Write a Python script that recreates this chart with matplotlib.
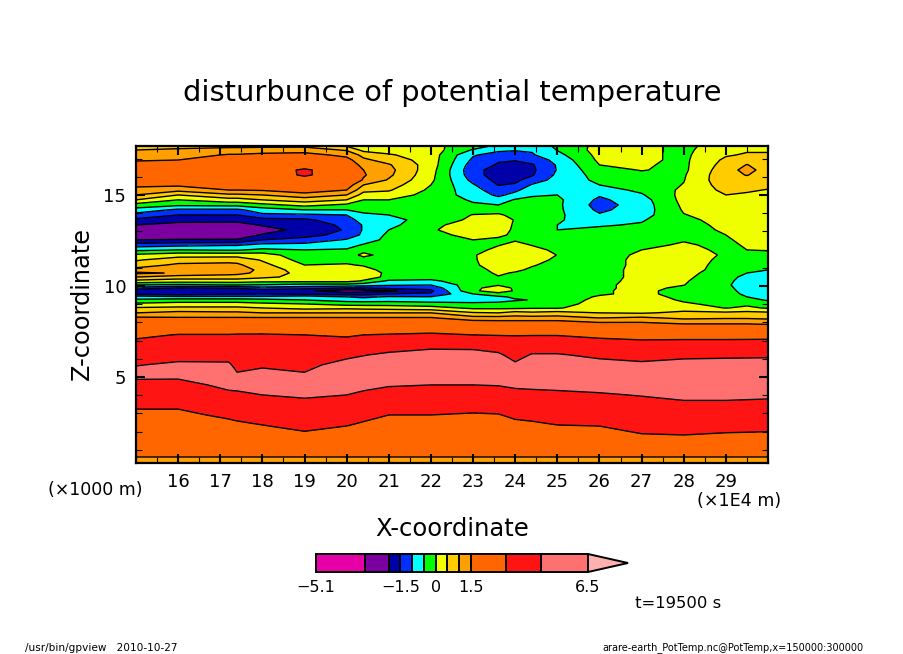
import numpy as np
import matplotlib
matplotlib.use("Agg")
import matplotlib.pyplot as plt
from matplotlib.colors import ListedColormap, BoundaryNorm

W, H = 904, 654

x_pos = [15, 16, 17.2, 17.4, 18, 19, 20, 20.4, 21, 22, 23, 23.6, 24, 24.4, 25, 26, 27, 28, 29, 29.5, 30]
z_pos = [17.69, 17.47, 17.20, 16.92, 16.65, 16.37, 16.10, 15.82, 15.55, 15.27,
         15.00, 14.73, 14.45, 14.18, 13.90, 13.63, 13.35, 13.08, 12.80, 12.53,
         12.25, 11.98, 11.70, 11.43, 11.15, 10.88, 10.71, 10.49, 10.27, 10.05,
         9.89, 9.73, 9.56, 9.40, 9.23, 9.01, 8.79, 8.52, 8.24,
         7.97, 7.69, 7.31, 6.76, 6.21, 5.66, 5.11, 4.56, 4.01, 3.46, 2.91, 2.36, 1.81, 1.26, 0.60, 0.27]

# one list per x column, top of the domain first
t15 = [.8, 1.0, 1.25, 1.45, 1.7, 1.9, 1.9, 1.8, 1.6, 1.35,
       1.0, .5, -.2, -.7, -1.2, -1.6, -2.0, -2.4, -2.6, -2.0,
       -1.25, -.6, .1, .45, .75, 1.2, 1.6, 1.0, .35, -.5,
       -1.2, -1.9, -1.6, -.8, -.4, .1, .55, 1.0, 1.6,
       1.75, 2.17, 2.75, 3.38, 3.91, 4.45, 4.9, 4.0, 3.65, 3.15, 2.79, 2.49, 2.18, 1.87, 1.5, 1.3]
t16 = [.9, 1.05, 1.25, 1.5, 1.75, 2.0, 2.0, 1.85, 1.6, 1.15,
       .5, 0, -.4, -1.1, -1.5, -1.8, -2.2, -2.6, -2.4, -1.95,
       -1.15, -.5, .3, .75, 1.1, 1.4, 1.45, .75, .25, -.6,
       -1.5, -1.85, -1.75, -.9, -.3, .2, .6, 1.15, 1.55,
       1.8, 2.35, 3.05, 3.57, 4.09, 4.7, 4.75, 4.15, 3.65, 3.15, 2.79, 2.49, 2.18, 1.87, 1.5, 1.3]
t172 = [.9, 1.15, 1.55, 1.85, 2.1, 2.2, 2.2, 2.0, 1.75, 1.5,
        .9, .3, -.35, -1.1, -1.5, -1.85, -2.2, -2.5, -2.3, -1.95,
        -1.05, -.55, .3, .8, 1.15, 1.35, 1.2, .75, .25, -.5,
        -1.45, -1.8, -1.55, -.9, -.3, .2, .6, 1.1, 1.55,
        1.8, 2.35, 3.05, 3.59, 4.13, 4.65, 5.1, 4.75, 4.28, 3.72, 3.17, 2.75, 2.42, 2.0, 1.5, 1.3]
t174 = [.9, 1.15, 1.55, 1.85, 2.1, 2.2, 2.2, 2.0, 1.75, 1.5,
        .9, .3, -.35, -1.1, -1.5, -1.85, -2.2, -2.5, -2.3, -1.95,
        -1.05, -.55, .3, .8, 1.1, 1.3, 1.15, .75, .25, -.5,
        -1.45, -1.8, -1.55, -.9, -.3, .2, .6, 1.1, 1.55,
        1.8, 2.4, 3.08, 3.46, 3.85, 4.23, 4.6, 4.65, 4.4, 3.8, 3.3, 2.8, 2.4, 2.0, 1.5, 1.3]
t18 = [.9, 1.2, 1.65, 1.9, 2.1, 2.2, 2.1, 2.0, 1.8, 1.55,
       1.0, .5, -.15, -.75, -1.1, -1.7, -1.95, -2.2, -1.95, -1.5,
       -.85, -.4, .25, .45, .65, .85, .85, .6, .15, -.55,
       -1.2, -1.75, -1.5, -.9, -.35, .1, .5, 1.0, 1.55,
       1.85, 2.4, 3.09, 3.53, 3.97, 4.41, 4.7, 4.9, 4.5, 4.0, 3.5, 3.0, 2.55, 2.1, 1.5, 1.3]
t19 = [.9, 1.25, 1.7, 2.0, 2.3, 3.2, 3.2, 2.4, 2.1, 1.8,
       1.3, .75, .15, -.5, -1.1, -1.6, -1.75, -1.85, -1.7, -1.3,
       -.85, -.5, -.35, -.2, 0, .2, .3, .35, .15, -.7,
       -1.3, -1.9, -1.6, -.75, -.5, 0, .35, 1.0, 1.55,
       1.8, 2.3, 3.0, 3.41, 3.81, 4.22, 4.6, 5.0, 4.65, 4.19, 3.75, 3.31, 2.82, 2.2, 1.5, 1.3]
t20 = [.45, .95, 1.35, 1.7, 1.95, 2.1, 2.1, 2.0, 1.8, 1.5,
       1.0, .5, -.1, -.5, -1.0, -1.2, -1.4, -1.45, -1.3, -.95,
       -.7, -.45, -.3, -.15, .05, .2, .25, .35, .15, -.7,
       -1.5, -2.3, -1.7, -1.0, -.7, -.2, .4, 1.0, 1.55,
       1.75, 2.2, 2.85, 3.55, 4.23, 4.9, 5.1, 5.0, 4.5, 4.0, 3.53, 3.05, 2.55, 2.1, 1.5, 1.3]
t204 = [.2, .35, .85, 1.1, 1.3, 1.5, 1.55, 1.45, 1.0, .65,
        .3, 0, -.15, -.35, -.6, -.8, -.95, -.95, -.9, -.75,
        -.45, -.2, .15, -.25, -.05, .2, .25, .2, -.05, -.8,
        -1.5, -2.2, -1.7, -1.1, -.75, -.2, .35, 1.0, 1.55,
        1.8, 2.3, 3.0, 3.7, 4.45, 5.0, 5.1, 4.85, 4.25, 3.75, 3.3, 2.85, 2.45, 2.0, 1.5, 1.3]
t21 = [.1, .3, .55, .8, 1.05, 1.15, 1.1, .95, .75, .55,
       .3, 0, -.15, -.3, -.5, -.65, -.65, -.5, -.4, -.35,
       -.35, -.3, -.25, -.3, -.3, -.2, -.1, -.1, -.6, -.95,
       -1.35, -2.1, -1.5, -.95, -.7, -.2, .3, 1.0, 1.55,
       1.8, 2.35, 3.08, 3.92, 4.7, 5.2, 5.1, 4.6, 4.0, 3.5, 3.0, 2.65, 2.3, 1.95, 1.5, 1.3]
t22 = [.1, .25, .25, .25, .25, .2, .15, .1, 0, -.1,
       -.2, -.25, -.3, -.3, -.35, -.3, -.1, -.05, -.15, -.2,
       -.3, -.3, -.3, -.3, -.3, -.3, -.3, -.4, -.55, -1.0,
       -1.35, -1.6, -1.45, -.98, -.75, -.3, .2, 1.0, 1.55,
       1.85, 2.4, 3.2, 4.2, 4.9, 5.3, 5.1, 4.5, 4.0, 3.5, 3.0, 2.65, 2.3, 1.95, 1.5, 1.3]
t23 = [-.2, -.55, -.95, -1.1, -1.25, -1.35, -1.3, -1.15, -.95, -.8,
       -.7, -.55, -.45, -.2, .02, .1, .2, .25, .15, 0,
       -.1, -.2, -.05, -.07, -.1, -.2, -.25, -.3, -.35, -.2,
       -.08, -.05, -.5, -.7, -.7, -.4, -.1, .55, 1.2,
       1.8, 2.3, 3.0, 4.15, 4.9, 5.3, 5.1, 4.5, 3.95, 3.4, 2.9, 2.6, 2.25, 1.9, 1.5, 1.3]
t236 = [-.65, -.9, -1.2, -1.45, -1.55, -1.7, -1.75, -1.65, -1.52, -1.3,
        -1.1, -.8, -.5, -.15, .05, .15, .2, .2, .1, -.1,
        -.03, .15, .3, .35, .3, .15, .08, -.03, -.15, -.02,
        .15, .15, -.1, -.6, -.75, -.3, -.1, .5, 1.2,
        1.75, 2.3, 2.95, 3.84, 4.7, 5.2, 5.1, 4.55, 3.95, 3.45, 2.95, 2.65, 2.3, 1.95, 1.5, 1.3]
t24 = [-.85, -.95, -1.3, -1.48, -1.6, -1.7, -1.7, -1.6, -1.45, -1.1,
       -.85, -.45, -.35, -.2, -.1, -.02, -.05, -.08, -.1, -.05,
       .15, .25, .3, .35, .3, .1, -.05, -.15, -.2, -.15,
       -.05, -.03, -.2, -.4, -.55, -.3, -.1, .7, 1.2,
       1.75, 2.3, 2.95, 3.5, 4.05, 4.7, 5.0, 4.7, 4.13, 3.57, 3.2, 2.75, 2.4, 2.0, 1.5, 1.3]
t244 = [-.85, -.95, -1.05, -1.3, -1.55, -1.6, -1.55, -1.3, -.95, -.75,
        -.55, -.4, -.3, -.25, -.2, -.2, -.2, -.2, -.2, -.15,
        -.02, .15, .25, .2, .05, -.1, -.2, -.25, -.25, -.25,
        -.25, -.25, -.3, -.4, -.48, -.2, -.05, .6, 1.2,
        1.75, 2.3, 2.95, 3.75, 4.6, 5.1, 5.1, 4.7, 4.25, 3.7, 3.25, 2.85, 2.45, 2.05, 1.5, 1.3]
t25 = [-.4, -.48, -.65, -.85, -.95, -.97, -.9, -.8, -.7, -.6,
       -.5, -.4, -.4, -.4, -.4, -.45, -.5, -.5, -.4, -.3,
       -.2, -.1, -.01, -.1, -.2, -.25, -.25, -.25, -.25, -.25,
       -.25, -.25, -.25, -.25, -.2, -.15, -.05, .7, 1.2,
       1.75, 2.3, 2.95, 3.75, 4.6, 5.1, 5.1, 4.75, 4.3, 3.85, 3.45, 3.0, 2.55, 2.1, 1.5, 1.3]
t26 = [.15, .2, .15, .1, 0, -.15, -.3, -.4, -.5, -.7,
       -.95, -1.1, -1.2, -1.1, -.95, -.75, -.55, -.4, -.3, -.25,
       -.25, -.25, -.25, -.25, -.25, -.2, -.2, -.2, -.15, -.1,
       -.1, -.05, -.05, .05, .1, .15, .3, .5, 1.0,
       1.55, 2.2, 2.75, 3.5, 4.25, 4.9, 5.2, 4.85, 4.4, 3.95, 3.5, 3.05, 2.6, 2.1, 1.5, 1.3]
t27 = [.1, .1, .1, .1, .05, .02, -.1, -.2, -.3, -.4,
       -.55, -.7, -.75, -.75, -.7, -.55, -.45, -.35, -.3, -.2,
       -.1, 0, .1, .15, .15, .15, .15, .15, .15, .15,
       .15, .1, .1, .15, .2, .25, .3, .45, 1.1,
       1.55, 2.1, 2.65, 3.35, 4.0, 4.75, 5.1, 5.0, 4.55, 4.15, 3.75, 3.35, 2.95, 2.3, 1.5, 1.3]
t28 = [-.1, -.1, -.1, -.1, -.1, -.1, -.05, -.02, .02, .1,
       .15, .15, .1, .05, -.02, -.1, -.15, -.15, -.1, -.03,
       .05, .15, .2, .2, .2, .2, .15, .1, .05, .01,
       -.1, -.15, -.15, -.1, -.05, .05, .3, .6, .9,
       1.4, 1.9, 2.65, 3.4, 4.2, 4.95, 5.2, 5.1, 4.8, 4.25, 3.85, 3.45, 3.0, 2.35, 1.5, 1.3]
t29 = [.2, .3, .45, .6, .7, .8, .85, .85, .75, .62,
       .5, .35, .3, .25, .2, .15, .1, .05, 0, -.05,
       -.1, -.1, -.05, -.1, -.15, -.2, -.25, -.3, -.35, -.4,
       -.35, -.3, -.3, -.25, -.2, -.1, -.02, .6, .95,
       1.4, 1.9, 2.65, 3.4, 4.25, 5.0, 5.2, 5.1, 4.8, 4.25, 3.8, 3.35, 2.9, 2.3, 1.5, 1.3]
t295 = [.3, .45, .55, .8, 1.02, 1.15, 1.02, .85, .7, .55,
        .45, .4, .35, .3, .3, .3, .25, .2, .15, .1,
        .05, 0, -.1, -.2, -.3, -.45, -.5, -.65, -.75, -.8,
        -.75, -.7, -.6, -.5, -.35, -.1, .1, .65, .95,
        1.4, 1.9, 2.65, 3.42, 4.28, 5.0, 5.2, 5.1, 4.75, 4.22, 3.78, 3.32, 2.88, 2.28, 1.5, 1.3]
t30 = [.35, .45, .55, .65, .75, .8, .8, .7, .6, .48,
       .4, .35, .35, .3, .3, .3, .25, .2, .15, .1,
       .05, .02, -.1, -.2, -.35, -.5, -.6, -.7, -.8, -.8,
       -.8, -.75, -.7, -.6, -.55, -.3, -.05, .6, .9,
       1.35, 1.85, 2.65, 3.45, 4.3, 5.0, 5.2, 5.1, 4.7, 4.2, 3.75, 3.3, 2.85, 2.25, 1.5, 1.3]

levels = [-5.1, -3, -2, -1.5, -1, -.5, 0, .5, 1, 1.5, 3, 4.5, 6.5]
colors = ["#e600a8", "#7a00a0", "#0000a8", "#0030ff", "#00ffff", "#00ff00",
          "#f0ff00", "#ffcc00", "#ffa000", "#ff6600", "#ff1414", "#ff7070"]
over_color = "#ffb0b0"
bar_ticks = [-5.1, -1.5, 0, 1.5, 6.5]
bar_labels = ["\u22125.1", "\u22121.5", "0", "1.5", "6.5"]

theta = np.array([t15, t16, t172, t174, t18, t19, t20, t204, t21, t22, t23,
                  t236, t24, t244, t25, t26, t27, t28, t29, t295, t30]).T

cmap = ListedColormap(colors)
cmap.set_over(over_color)
norm = BoundaryNorm(levels, len(colors))


def px_box(x0, y0, x1, y1):
    return [x0 / W, 1 - y1 / H, (x1 - x0) / W, (y1 - y0) / H]


def label(x, y, s, **kw):
    kw.setdefault("ha", "center")
    fig.text(x / W, 1 - y / H, s, va="center", **kw)


fig = plt.figure(figsize=(W / 100, H / 100), dpi=100)
ax = fig.add_axes(px_box(136, 146, 768, 463))

cf = ax.contourf(x_pos, z_pos, theta, levels=levels, cmap=cmap, norm=norm, extend="max", antialiased=False)
ax.contour(x_pos, z_pos, theta, levels=levels, colors="k", linewidths=1.0, linestyles="solid")

ax.set_xlim(15, 30)
ax.set_ylim(0.27, 17.69)
ax.set_xticks(range(16, 30))
ax.set_xticks(np.arange(15, 30.5, 0.5), minor=True)
ax.set_yticks([5, 10, 15])
ax.set_yticks(range(1, 18), minor=True)
ax.tick_params(which="major", direction="in", top=True, right=True, length=6.5, width=1.5, labelsize=13, pad=7)
ax.tick_params(which="minor", direction="in", top=True, right=True, length=4, width=0.8)
for sp in ax.spines.values():
    sp.set_linewidth(1.6)
ax.set_axisbelow(False)

label(452, 93, "disturbunce of potential temperature", fontsize=20.8)
label(82, 303, "Z-coordinate", fontsize=17.3, rotation=90)
label(452, 529, "X-coordinate", fontsize=17.5)
label(95, 490, "(\u00d71000 m)", fontsize=12.5)
label(739, 501, "(\u00d71E4 m)", fontsize=12.6)
label(678, 603, "t=19500 s", fontsize=11.8)
label(25, 648, "/usr/bin/gpview   2010-10-27", fontsize=7.6, ha="left")
label(864, 648, "arare-earth_PotTemp.nc@PotTemp,x=150000:300000", fontsize=7.0, ha="right")

# the arrow is drawn inside cax, so the box runs out to its tip
cax = fig.add_axes(px_box(316, 554, 628, 572))
cb = fig.colorbar(cf, cax=cax, orientation="horizontal", spacing="proportional",
                  extendfrac=40 / 272, drawedges=True, ticks=bar_ticks)
cb.ax.set_xticklabels(bar_labels, fontsize=11.5)
cb.ax.tick_params(length=0, pad=6)
cb.ax.minorticks_off()
cb.outline.set_linewidth(1.4)
cb.dividers.set_linewidth(1.4)

fig.savefig("out.png", dpi=100)
